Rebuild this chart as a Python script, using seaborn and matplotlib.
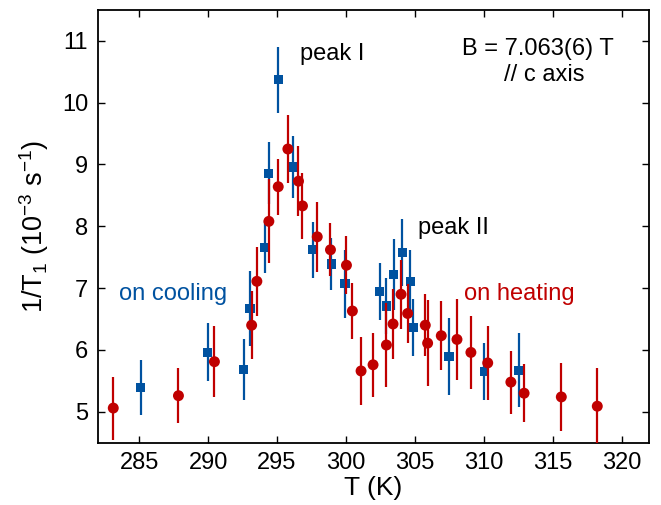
import numpy as np
import pandas as pd
import matplotlib
matplotlib.use("Agg")
import matplotlib.pyplot as plt
import seaborn as sns

# ---- data ----
heat_T = [283.12, 287.85, 290.46, 293.16, 293.54, 294.41, 295.09, 295.79, 296.56, 296.85,
          297.92, 298.88, 300.04, 300.47, 301.10, 301.97, 302.94, 303.42, 304.00, 304.48,
          305.76, 305.93, 306.92, 308.06, 309.07, 310.29, 311.97, 312.93, 315.63, 318.24]
heat_v = [5.06, 5.26, 5.81, 6.40, 7.11, 8.08, 8.64, 9.25, 8.73, 8.33,
          7.83, 7.62, 7.37, 6.63, 5.66, 5.76, 6.08, 6.42, 6.90, 6.59,
          6.40, 6.11, 6.23, 6.17, 5.96, 5.79, 5.48, 5.30, 5.24, 5.09]
heat_e = [0.51, 0.44, 0.57, 0.55, 0.56, 0.68, 0.45, 0.55, 0.57, 0.54,
          0.57, 0.43, 0.47, 0.46, 0.55, 0.52, 0.68, 0.57, 0.56, 0.47,
          0.50, 0.70, 0.56, 0.66, 0.59, 0.60, 0.51, 0.47, 0.55, 0.62]

cool_T = [285.12, 289.97, 292.58, 293.04, 294.12, 294.39, 295.09, 296.13, 297.58, 298.93,
          299.93, 302.45, 302.94, 303.46, 304.09, 304.67, 304.87, 307.48, 310.03, 312.55]
cool_v = [5.39, 5.96, 5.68, 6.67, 7.66, 8.86, 10.37, 8.96, 7.62, 7.39,
          7.07, 6.95, 6.71, 7.22, 7.57, 7.11, 6.36, 5.89, 5.65, 5.67]
cool_e = [0.45, 0.47, 0.49, 0.60, 0.42, 0.50, 0.53, 0.50, 0.45, 0.42,
          0.55, 0.46, 0.45, 0.57, 0.54, 0.50, 0.46, 0.62, 0.46, 0.60]

x_ticks = [285, 290, 295, 300, 305, 310, 315, 320]
y_ticks = [5, 6, 7, 8, 9, 10, 11]

BLUE = "#0052A0"
RED = "#C00000"

sns.set_theme(style="ticks")
plt.rcParams["font.family"] = ["Liberation Sans", "DejaVu Sans"]
plt.rcParams["mathtext.fontset"] = "custom"
plt.rcParams["mathtext.rm"] = "Liberation Sans"
plt.rcParams["mathtext.it"] = "Liberation Sans"
plt.rcParams["text.color"] = "black"
plt.rcParams["axes.labelcolor"] = "black"

heat = pd.DataFrame({"T": heat_T, "v": heat_v, "e": heat_e})
cool = pd.DataFrame({"T": cool_T, "v": cool_v, "e": cool_e})

fig = plt.figure(figsize=(6.61, 5.05), dpi=100)
ax = fig.add_axes([0.148, 0.1234, 0.834, 0.857])

ax.errorbar(cool["T"], cool["v"], yerr=cool["e"], fmt="none", ecolor=BLUE,
            elinewidth=1.6, capsize=0, zorder=2)
sns.scatterplot(data=cool, x="T", y="v", marker="s", s=44, color=BLUE,
                edgecolor="none", ax=ax, zorder=3)
ax.errorbar(heat["T"], heat["v"], yerr=heat["e"], fmt="none", ecolor=RED,
            elinewidth=1.6, capsize=0, zorder=4)
sns.scatterplot(data=heat, x="T", y="v", marker="o", s=62, color=RED,
                edgecolor="none", ax=ax, zorder=5)

ax.set_xlim(282, 322)
ax.set_ylim(4.5, 11.5)
ax.set_xticks(x_ticks)
ax.set_yticks(y_ticks)
ax.tick_params(direction="in", length=5, width=1, top=True, right=True,
               labelsize=17, colors="black", pad=7)
for sp in ax.spines.values():
    sp.set_linewidth(1.3)
    sp.set_color("black")

ax.set_xlabel("T (K)", fontsize=19, labelpad=1)
ax.set_ylabel(r"1/T$_1$ (10$^{-3}$ s$^{-1}$)", fontsize=19.5, labelpad=8)

ax.text(296.7, 10.78, "peak I", fontsize=17, va="center", ha="left")
ax.text(305.25, 7.97, "peak II", fontsize=17, va="center", ha="left")
ax.text(313.9, 10.87, "B = 7.063(6) T", fontsize=17, va="center", ha="center")
ax.text(314.4, 10.44, "// c axis", fontsize=17, va="center", ha="center")
ax.text(283.5, 6.91, "on cooling", fontsize=17, va="center", ha="left", color=BLUE)
ax.text(308.6, 6.91, "on heating", fontsize=17, va="center", ha="left", color=RED)

fig.savefig("out.png", dpi=100)
